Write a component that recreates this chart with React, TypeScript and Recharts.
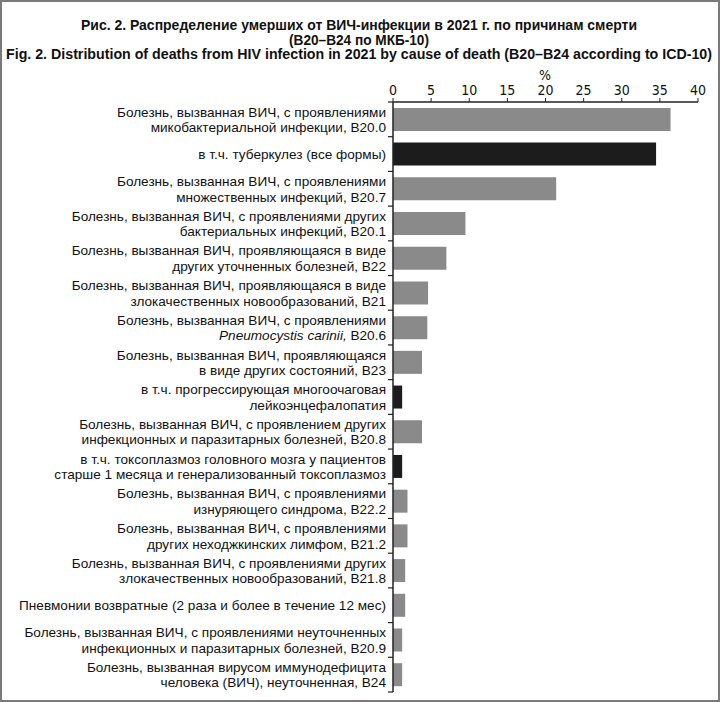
import React from 'react';
import { BarChart, Bar, XAxis, YAxis, Cell } from 'recharts';

const causeLines: string[][] = [
  ['Болезнь, вызванная ВИЧ, с проявлениями', 'микобактериальной инфекции, B20.0'],
  ['в т.ч. туберкулез (все формы)'],
  ['Болезнь, вызванная ВИЧ, с проявлениями', 'множественных инфекций, B20.7'],
  ['Болезнь, вызванная ВИЧ, с проявлениями других', 'бактериальных инфекций, B20.1'],
  ['Болезнь, вызванная ВИЧ, проявляющаяся в виде', 'других уточненных болезней, B22'],
  ['Болезнь, вызванная ВИЧ, проявляющаяся в виде', 'злокачественных новообразований, B21'],
  ['Болезнь, вызванная ВИЧ, с проявлениями', '_Pneumocystis carinii,_ B20.6'],
  ['Болезнь, вызванная ВИЧ, проявляющаяся', 'в виде других состояний, B23'],
  ['в т.ч. прогрессирующая многоочаговая', 'лейкоэнцефалопатия'],
  ['Болезнь, вызванная ВИЧ, с проявлением других', 'инфекционных и паразитарных болезней, B20.8'],
  ['в т.ч. токсоплазмоз головного мозга у пациентов', 'старше 1 месяца и генерализованный токсоплазмоз'],
  ['Болезнь, вызванная ВИЧ, с проявлениями', 'изнуряющего синдрома, B22.2'],
  ['Болезнь, вызванная ВИЧ, с проявлениями', 'других неходжкинских лимфом, B21.2'],
  ['Болезнь, вызванная ВИЧ, с проявлениями других', 'злокачественных новообразований, B21.8'],
  ['Пневмонии возвратные (2 раза и более в течение 12 мес)'],
  ['Болезнь, вызванная ВИЧ, с проявлениями неуточненных', 'инфекционных и паразитарных болезней, B20.9'],
  ['Болезнь, вызванная вирусом иммунодефицита', 'человека (ВИЧ), неуточненная, B24'],
];

const shares: number[] = [36.4, 34.5, 21.4, 9.5, 7.0, 4.6, 4.5, 3.8, 1.2, 3.8, 1.2, 1.9, 1.9, 1.6, 1.6, 1.2, 1.2];

const isSubgroup: boolean[] = [false, true, false, false, false, false, false, false, true, false, true, false, false, false, false, false, false];

const xTicks: number[] = [0, 5, 10, 15, 20, 25, 30, 35, 40];

const titleLines: string[] = [
  'Рис. 2. Распределение умерших от ВИЧ-инфекции в 2021 г. по причинам смерти',
  '(B20–B24 по МКБ-10)',
  'Fig. 2. Distribution of deaths from HIV infection in 2021 by cause of death (B20–B24 according to ICD-10)',
];

const titleWidths: number[] = [556, 140, 706];
const titleSizes: number[] = [14.5, 14.5, 13.8];
const titleY: number[] = [25, 39.8, 54.5];

const data = causeLines.map((lines, i) => ({
  key: lines.join(' '),
  value: shares[i],
  sub: isSubgroup[i],
}));

const NARROW = "'Liberation Sans Narrow', 'DejaVu Sans Condensed', 'Arial Narrow', sans-serif";
const SANS = "'Liberation Sans', Arial, sans-serif";

const renderLine = (line: string) => {
  const parts = line.split('_');
  return parts.map((p, k) => (
    <tspan key={k} fontStyle={k % 2 === 1 ? 'italic' : 'normal'}>{p}</tspan>
  ));
};

const CauseTick = (props: any) => {
  const { x, y, payload, index } = props;
  const idx = typeof index === 'number' ? index : payload.index;
  const lines = causeLines[idx] || [];
  const off = payload.offset ?? 17;
  const lh = 15.5;
  const start = -((lines.length - 1) * lh) / 2;
  return (
    <g>
      <line x1={x - 5} x2={x} y1={y + off} y2={y + off} stroke="#222" strokeWidth={1.2} />
      {idx === 0 && <line x1={x - 5} x2={x} y1={y - off} y2={y - off} stroke="#222" strokeWidth={1.2} />}
      {lines.map((ln, j) => (
        <text
          key={j}
          x={x - 7}
          y={y + start + j * lh}
          textAnchor="end"
          dominantBaseline="central"
          fontSize={13.6}
          fontFamily={SANS}
          fill="#111"
        >
          {renderLine(ln)}
        </text>
      ))}
    </g>
  );
};

export default function App() {
  return (
    <div
      style={{
        position: 'absolute',
        left: 0,
        top: 0,
        width: 720,
        height: 702,
        background: '#fff',
        boxSizing: 'border-box',
        border: '2px solid #7a7a7a',
        overflow: 'hidden',
      }}
    >
      <svg width={716} height={66} style={{ position: 'absolute', left: 0, top: 0 }}>
        {titleLines.map((t, i) => (
          <text
            key={i}
            x={357}
            y={titleY[i] - 2}
            textAnchor="middle"
            dominantBaseline="central"
            fontFamily={SANS}
            fontWeight="bold"
            fontSize={titleSizes[i]}
            fill="#111"
            textLength={titleWidths[i]}
            lengthAdjust="spacingAndGlyphs"
          >
            {t}
          </text>
        ))}
      </svg>
      <div
        style={{
          position: 'absolute',
          left: 545 - 20 - 2,
          top: 65,
          width: 40,
          textAlign: 'center',
          fontFamily: NARROW,
          fontSize: 14,
          lineHeight: '16px',
          color: '#111',
        }}
      >
        %
      </div>
      <div style={{ position: 'absolute', left: -2, top: -2 }}>
        <BarChart
          width={720}
          height={702}
          data={data}
          layout="vertical"
          margin={{ top: 72, right: 22, bottom: 10, left: 0 }}
          barCategoryGap="17%"
        >
          <XAxis
            type="number"
            orientation="top"
            domain={[0, 40]}
            ticks={xTicks}
            height={30}
            axisLine={{ stroke: '#222', strokeWidth: 1.5 }}
            tickLine={{ stroke: '#222' }}
            tickSize={4}
            tickMargin={3}
            tick={{ fontSize: 14, fontFamily: NARROW, fill: '#111' }}
            allowDataOverflow
          />
          <YAxis
            type="category"
            dataKey="key"
            width={393}
            interval={0}
            axisLine={{ stroke: '#222', strokeWidth: 1.5 }}
            tickLine={false}
            tickSize={0}
            tickMargin={0}
            tick={(p: any) => <CauseTick {...p} />}
          />
          <Bar dataKey="value" isAnimationActive={false}>
            {data.map((d, i) => (
              <Cell key={i} fill={d.sub ? '#1c1c1c' : '#8a8a8a'} />
            ))}
          </Bar>
        </BarChart>
      </div>
    </div>
  );
}
